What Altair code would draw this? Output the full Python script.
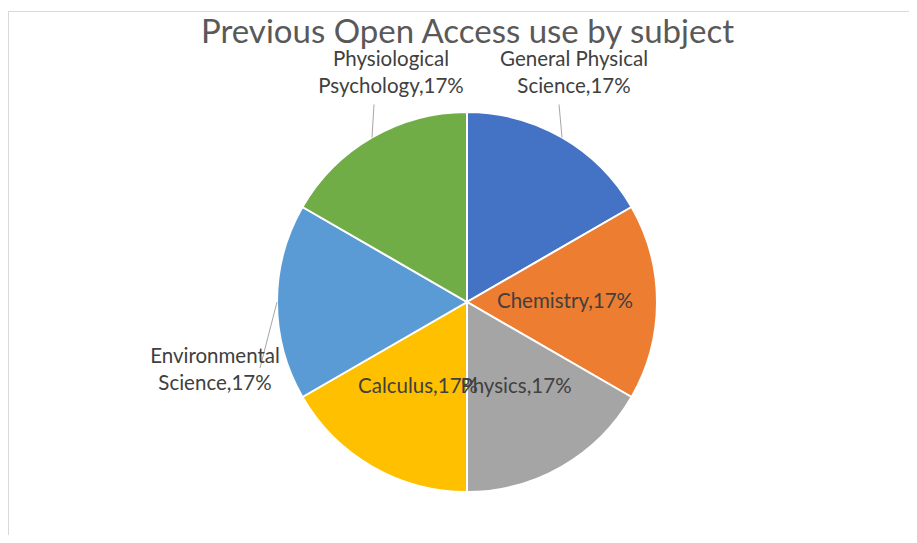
import math
import altair as alt
import pandas as pd

# ---------------- data ----------------
subjects = [
    "General Physical Science",
    "Chemistry",
    "Physics",
    "Calculus",
    "Environmental Science",
    "Physiological Psychology",
]
values = [17, 17, 17, 17, 17, 17]
label_lines = [
    "General Physical\nScience",
    "Chemistry",
    "Physics",
    "Calculus",
    "Environmental\nScience",
    "Physiological\nPsychology",
]
title_text = "Previous Open Access use by subject"

# ---------------- styles / layout ----------------
colors = ["#4472C4", "#ED7D31", "#A5A5A5", "#FFC000", "#5B9BD5", "#70AD47"]
W, H = 901, 527
CX, CY, R = 459, 294, 190
R_IN = 98
FONT = "Lato"
LINE_H = 27
# outside callouts: (leader end dx, dy, label dx, dy) relative to slice edge midpoint
callouts = {
    "General Physical Science": (-3, -33, 12, -64),
    "Environmental Science": (-17, 66, -62, 68),
    "Physiological Psychology": (2, -33, 19, -64),
}

# ---------------- derived table ----------------
total = sum(values)
rows = []
cum = 0.0
for i, (s, v, lab) in enumerate(zip(subjects, values, label_lines)):
    mid = (cum + v / 2) / total * 2 * math.pi
    cum += v
    pct = round(v / total * 100)
    ex, ey = CX + R * math.sin(mid), CY - R * math.cos(mid)
    if s in callouts:
        ldx, ldy, tdx, tdy = callouts[s]
        lx, ly = ex + tdx, ey + tdy
        rx2, ry2 = ex + ldx, ey + ldy
        outside = True
    else:
        lx, ly = CX + R_IN * math.sin(mid), CY - R_IN * math.cos(mid)
        rx2, ry2 = ex, ey
        outside = False
    nlines = lab.count("\n") + 1
    ly -= (nlines - 1) * LINE_H / 2
    rows.append(dict(subject=s, value=v, idx=i, label=f"{lab},{pct}%",
                     ex=ex, ey=ey, lx=lx, ly=ly, rx2=rx2, ry2=ry2, outside=outside))
df = pd.DataFrame(rows)

base = alt.Chart(df)

pie = base.mark_arc(outerRadius=R, stroke="white", strokeWidth=2).encode(
    theta=alt.Theta("value:Q", stack=True),
    order=alt.Order("idx:Q"),
    color=alt.Color("subject:N", scale=alt.Scale(domain=subjects, range=colors), legend=None),
    x=alt.value(CX),
    y=alt.value(CY),
)

leaders = base.transform_filter("datum.outside").mark_rule(color="#A6A6A6", strokeWidth=1).encode(
    x=alt.X("ex:Q", scale=None, axis=None),
    y=alt.Y("ey:Q", scale=None, axis=None),
    x2="rx2:Q",
    y2="ry2:Q",
)

labels = base.mark_text(
    font=FONT, fontSize=20.5, color="#404040", lineBreak="\n", lineHeight=LINE_H,
    align="center", baseline="middle",
).encode(
    x=alt.X("lx:Q", scale=None, axis=None),
    y=alt.Y("ly:Q", scale=None, axis=None),
    text="label:N",
)

title = alt.Chart(pd.DataFrame({"t": [title_text]})).mark_text(
    font=FONT, fontSize=33, color="#595959", align="center", baseline="alphabetic"
).encode(x=alt.value(459.5), y=alt.value(35), text="t:N")

frame_top = alt.Chart(pd.DataFrame({"a": [0]})).mark_rule(color="#D9D9D9", strokeWidth=1).encode(
    x=alt.value(0), x2=alt.value(W), y=alt.value(3.5)
)
frame_left = alt.Chart(pd.DataFrame({"a": [0]})).mark_rule(color="#D9D9D9", strokeWidth=1).encode(
    x=alt.value(0.5), y=alt.value(3.5), y2=alt.value(H)
)

chart = alt.layer(frame_top, frame_left, pie, leaders, labels, title).properties(
    width=W, height=H, padding=0, autosize=alt.AutoSizeParams(type="none")
).configure_view(stroke=None)

chart.save("out.html", embed_options={"renderer": "svg", "actions": False})
